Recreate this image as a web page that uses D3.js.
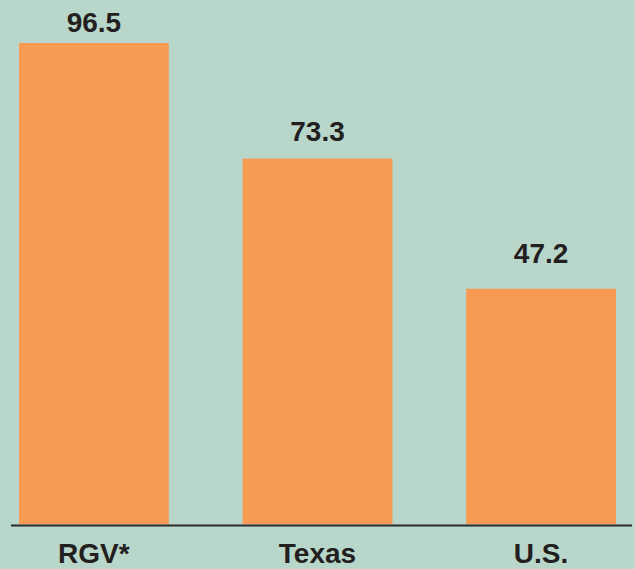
<!DOCTYPE html>
<html>
<head>
<meta charset="utf-8">
<script src="https://cdn.jsdelivr.net/npm/d3@7"></script>
<style>
  html, body { margin: 0; padding: 0; background: #b9d6ca; }
  svg { display: block; }
  text { font-family: Arial, "Liberation Sans", Helvetica, sans-serif; font-weight: bold; fill: #231f20; }
</style>
</head>
<body>
<svg id="chart"></svg>
<script>
const WIDTH = 635;
const HEIGHT = 569;

const categories = ['RGV*', 'Texas', 'U.S.'];
const values = [96.5, 73.3, 47.2];

const svg = d3.select('#chart')
  .attr('width', WIDTH)
  .attr('height', HEIGHT);

svg.append('rect')
  .attr('width', WIDTH)
  .attr('height', HEIGHT)
  .attr('fill', '#b9d6ca');

const x = d3.scaleBand()
  .domain(categories)
  .range([19, 616])
  .paddingInner(0.33)
  .paddingOuter(0);

const y = d3.scaleLinear()
  .domain([0, 96.5])
  .range([524, 43]);

// value labels sit a little higher above the shorter bars
const yLabel = d3.scaleLinear()
  .domain([47.2, 96.5])
  .range([263, 32]);

const data = categories.map((c, i) => ({cat: c, val: values[i]}));

svg.selectAll('.bar')
  .data(data)
  .enter()
  .append('rect')
  .attr('class', 'bar')
  .attr('fill', '#f79b53')
  .attr('x', (d) => x(d.cat))
  .attr('y', (d) => y(d.val))
  .attr('width', x.bandwidth())
  .attr('height', (d) => y(0) - y(d.val));

svg.selectAll('.val')
  .data(data)
  .enter()
  .append('text')
  .attr('class', 'val')
  .attr('x', (d) => x(d.cat) + x.bandwidth() / 2)
  .attr('y', (d) => yLabel(d.val))
  .attr('text-anchor', 'middle')
  .style('font-size', '28px')
  .text((d) => d.val.toFixed(1));

// baseline
svg.append('line')
  .attr('x1', 11)
  .attr('x2', 632)
  .attr('y1', y(0) + 1.5)
  .attr('y2', y(0) + 1.5)
  .attr('stroke', '#2b2b2b')
  .attr('stroke-width', 2);

const xAxis = d3.axisBottom(x).tickSize(0).tickPadding(0);

svg.append('g')
  .attr('transform', `translate(0, ${y(0)})`)
  .call(xAxis)
  .call((g) => g.select('.domain').remove())
  .selectAll('.tick text')
  .attr('dy', null)
  .attr('y', 39)
  .style('font-size', '28px')
  .style('font-family', 'Arial, "Liberation Sans", sans-serif')
  .attr('fill', '#231f20');
</script>
</body>
</html>
